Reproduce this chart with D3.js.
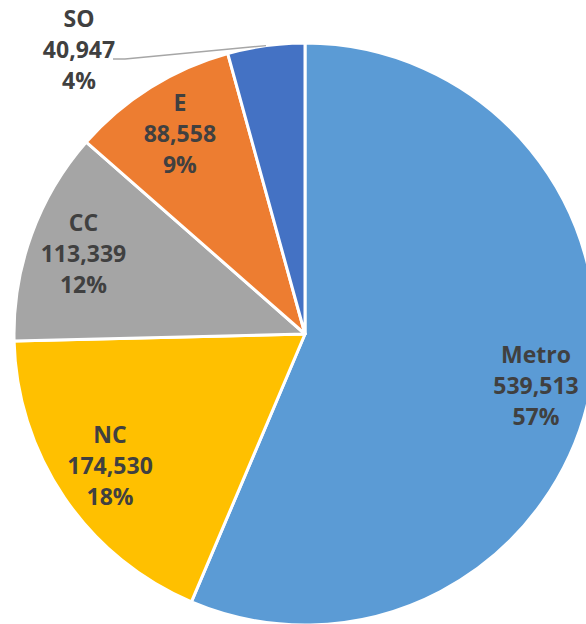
<!DOCTYPE html>
<meta charset="utf-8">
<style>
    body { margin: 0; background: #fff; }
    svg { display: block; }
    text { font-family: "Open Sans", sans-serif; font-weight: 700; fill: #404040; }
</style>
<body>
<div id="chart"></div>
<script src="https://d3js.org/d3.v7.min.js"></script>
<script>
    // regions, clockwise from 12 o'clock
    var regions = ['Metro', 'NC', 'CC', 'E', 'SO']
    var counts = [539513, 174530, 113339, 88558, 40947]
    var percents = ['57%', '18%', '12%', '9%', '4%']
    var colors = ['#5B9BD5', '#FFC000', '#A5A5A5', '#ED7D31', '#4472C4']

    var width = 586, height = 624
    var cx = 305, cy = 334, radius = 291

    var data = regions.map(function (r, i) {
        return { name: r, value: counts[i], pct: percents[i], color: colors[i] }
    })

    var svg = d3.select('#chart').append('svg')
        .attr('width', width)
        .attr('height', height)

    var g = svg.append('g')
        .attr('transform', 'translate(' + cx + ',' + cy + ')')

    var pie = d3.pie().sort(null).value(function (d) { return d.value })
    var arcs = pie(data)

    var arc = d3.arc().innerRadius(0).outerRadius(radius)
    var labelArc = d3.arc().innerRadius(radius * 0.81).outerRadius(radius * 0.81)
    var edgeArc = d3.arc().innerRadius(radius).outerRadius(radius)

    g.selectAll('path')
        .data(arcs)
        .enter().append('path')
        .attr('d', arc)
        .style('fill', function (d) { return d.data.color })
        .style('stroke', '#fff')
        .style('stroke-width', 3)
        .style('stroke-linejoin', 'round')

    var fmt = d3.format(',')
    var lineH = 31

    arcs.forEach(function (d) {
        var p
        if (d.data.name === 'SO') {
            // small slice: label outside, top left, with a leader line
            var e = edgeArc.centroid(d)
            p = [79 - cx, 50 - cy]
            g.append('polyline')
                .attr('points', [[113 - cx, 59 - cy], [125 - cx, 59 - cy], e].map(String).join(' '))
                .style('fill', 'none')
                .style('stroke', '#a6a6a6')
                .style('stroke-width', 1.5)
        } else {
            p = labelArc.centroid(d)
            if (d.data.name === 'Metro') p[1] += 5
        }
        var t = g.append('text')
            .attr('text-anchor', 'middle')
            .attr('font-size', 23)
        ;[d.data.name, fmt(d.data.value), d.data.pct].forEach(function (s, i) {
            t.append('tspan')
                .attr('x', p[0])
                .attr('y', p[1] + (i - 1) * lineH + 8)
                .text(s)
        })
    })
</script>
</body>
